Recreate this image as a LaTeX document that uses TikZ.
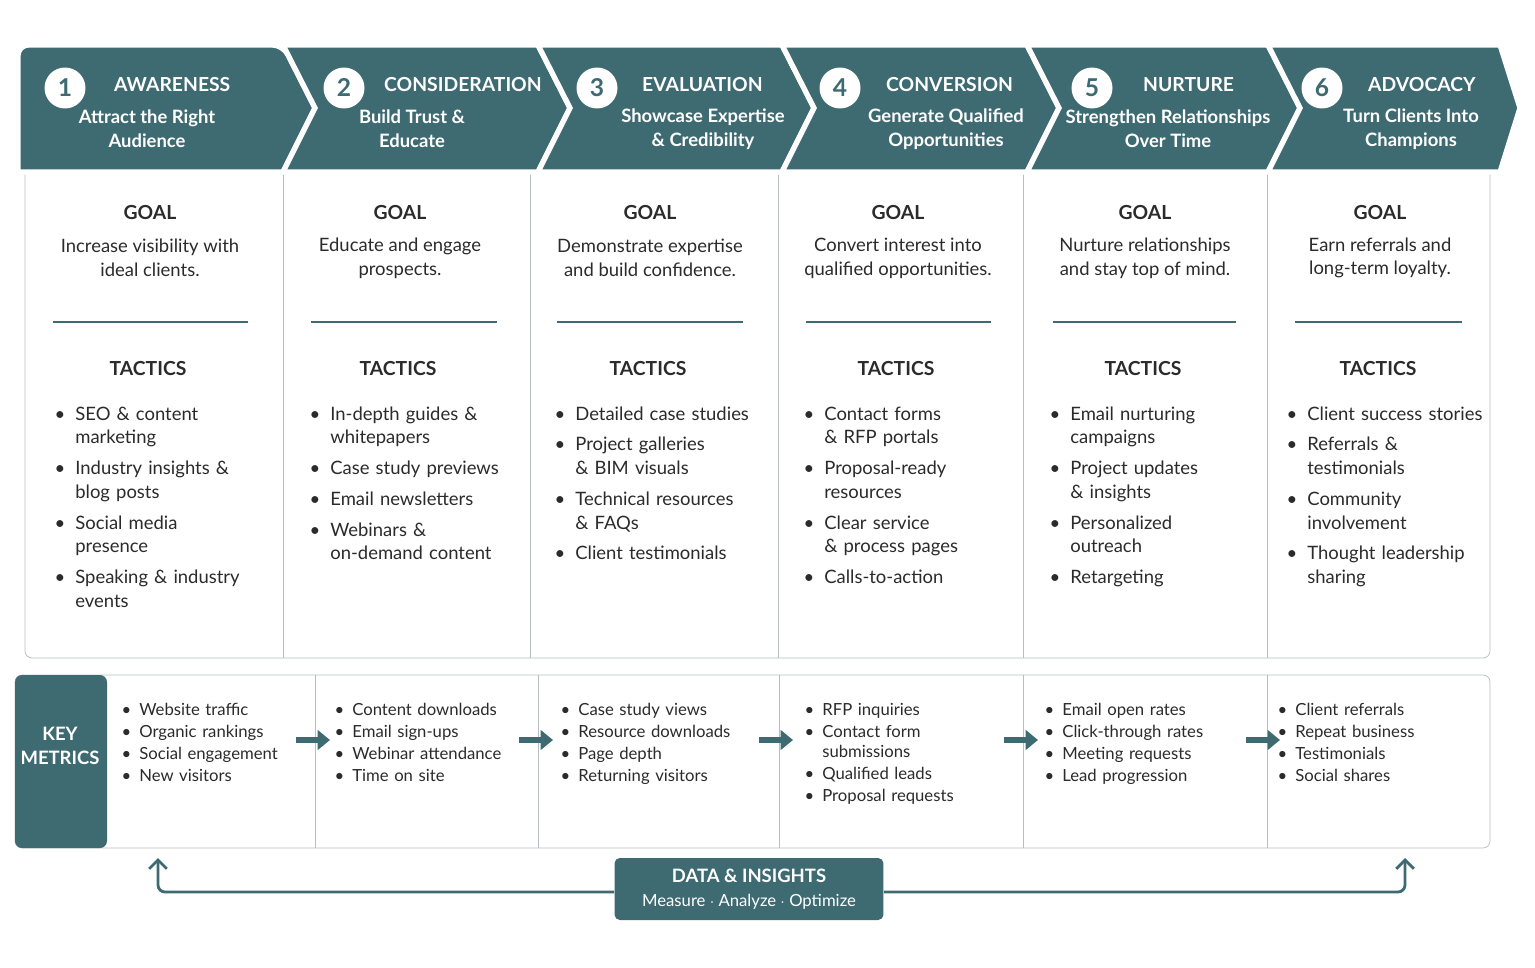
\documentclass[tikz,border=0pt]{standalone}
\usepackage{fontspec}
\setmainfont{Lato}
\usepackage{enumitem}
\usetikzlibrary{arrows.meta}
\definecolor{teal1}{HTML}{3E6A72}
\definecolor{rule1}{HTML}{B8BEC0}
\definecolor{ink}{HTML}{2B2B2B}
\newcommand{\blist}[1]{\begin{itemize}[leftmargin=0.4cm,labelsep=0.2cm,itemsep=4pt,parsep=0pt,topsep=0pt,label=\textbullet]#1\end{itemize}}
\newcommand{\mlist}[1]{\begin{itemize}[leftmargin=0.34cm,labelsep=0.16cm,itemsep=1pt,parsep=0pt,topsep=0pt,label=\textbullet]#1\end{itemize}}
\tikzset{
  chev/.style={fill=teal1, draw=white, line width=3pt, line join=miter},
  num/.style={circle, fill=white, minimum size=0.82cm, inner sep=0pt, text=teal1, font=\fontsize{14}{14}\selectfont\bfseries},
  ttl/.style={anchor=west, text=white, font=\fontsize{11}{13}\selectfont\bfseries},
  sub/.style={text=white, align=center, font=\fontsize{10.5}{13.5}\selectfont\bfseries},
  head/.style={text=ink, font=\fontsize{11}{13}\selectfont\bfseries},
  body/.style={text=ink, align=center, font=\fontsize{10.5}{13.5}\selectfont},
  tac/.style={anchor=north west, inner sep=0pt, text=ink, text width=4.3cm, font=\fontsize{10.5}{13.5}\selectfont},
  met/.style={anchor=north west, inner sep=0pt, text=ink, text width=4cm, font=\fontsize{9.5}{11.5}\selectfont},
  flow/.style={-{Triangle[length=7pt,width=11pt]}, line width=3.5pt, teal1},
  loop/.style={-{Straight Barb[length=5pt,width=10pt]}, line width=1.6pt, teal1}
}
\begin{document}
\begin{tikzpicture}[x=0.02cm, y=-0.02cm]
  \useasboundingbox (0,0) rectangle (1535,967);
  % stage body
  \draw[rule1, fill=white, rounded corners=4pt] (25,160) rectangle (1490,658);
  \foreach \x in {283,530,778,1023,1267}
    \draw[rule1] (\x,172) -- (\x,658);
  % chevrons
  \draw[chev, rounded corners=6pt] (18,172) -- (18,45) -- (283,45) [sharp corners] -- (315,108) -- (283,172) -- cycle;
  \foreach \l/\r in {283/538,538/782,782/1027,1027/1268}
    \draw[chev] (\l,45) -- (\r,45) -- (\r+32,108) -- (\r,172) -- (\l,172) -- (\l+32,108) -- cycle;
  \draw[chev] (1268,45) -- (1500,45) -- (1520,108) -- (1500,172) -- (1268,172) -- (1300,108) -- cycle;
  % stage headers
  \foreach \i/\cx/\tx/\t/\sx/\s in {
    1/65/108/AWARENESS/147/{Attract the Right\\Audience},
    2/344/378/CONSIDERATION/412/{Build Trust \&\\Educate},
    3/597/636/EVALUATION/703/{Showcase Expertise\\\& Credibility},
    4/840/880/CONVERSION/946/{Generate Qualified\\Opportunities},
    5/1092/1137/NURTURE/1168/{Strengthen Relationships\\Over Time},
    6/1322/1362/ADVOCACY/1411/{Turn Clients Into\\Champions}} {
    \node[num] (n\i) at (\cx,88) {\i};
    \node[ttl] (t\i) at (\tx,85) {\t};
    \node[sub] (s\i) at (\sx,129) {\s};
  }
  % goals
  \foreach \i/\gx/\g/\a/\b in {
    1/150/{Increase visibility with\\ideal clients.}/53/248,
    2/400/{Educate and engage\\prospects.}/311/497,
    3/650/{Demonstrate expertise\\and build confidence.}/557/743,
    4/898/{Convert interest into\\qualified opportunities.}/806/991,
    5/1145/{Nurture relationships\\and stay top of mind.}/1053/1236,
    6/1380/{Earn referrals and\\long-term loyalty.}/1295/1462} {
    \node[head] (gh\i) at (\gx,213) {GOAL};
    \node[body] (g\i) at (\gx,258) {\g};
    \draw[teal1, line width=0.8pt] (\a,322) -- (\b,322);
    \node[head] (th\i) at (\gx-2,369) {TACTICS};
  }
  % tactics
  \node[tac] (tc1) at (55,396) {\blist{\item SEO \& content\\marketing \item Industry insights \&\\blog posts \item Social media\\presence \item Speaking \& industry\\events}};
  \node[tac] (tc2) at (310,396) {\blist{\item In-depth guides \&\\whitepapers \item Case study previews \item Email newsletters \item Webinars \&\\on-demand content}};
  \node[tac] (tc3) at (555,396) {\blist{\item Detailed case studies \item Project galleries\\\& BIM visuals \item Technical resources\\\& FAQs \item Client testimonials}};
  \node[tac] (tc4) at (804,396) {\blist{\item Contact forms\\\& RFP portals \item Proposal-ready\\resources \item Clear service\\\& process pages \item Calls-to-action}};
  \node[tac] (tc5) at (1050,396) {\blist{\item Email nurturing\\campaigns \item Project updates\\\& insights \item Personalized\\outreach \item Retargeting}};
  \node[tac] (tc6) at (1287,396) {\blist{\item Client success stories \item Referrals \&\\testimonials \item Community\\involvement \item Thought leadership\\sharing}};
  % key metrics
  \draw[rule1, fill=white, rounded corners=4pt] (15,675) rectangle (1490,848);
  \fill[teal1, rounded corners=4pt] (15,675) rectangle (107,848);
  \node[text=white, align=center, font=\fontsize{10.5}{13.5}\selectfont\bfseries] (km) at (60,746) {KEY\\METRICS};
  \foreach \x in {315,538,779,1023,1267}
    \draw[rule1] (\x,675) -- (\x,848);
  \node[met] (m1) at (122,695) {\mlist{\item Website traffic \item Organic rankings \item Social engagement \item New visitors}};
  \node[met] (m2) at (335,695) {\mlist{\item Content downloads \item Email sign-ups \item Webinar attendance \item Time on site}};
  \node[met] (m3) at (561,695) {\mlist{\item Case study views \item Resource downloads \item Page depth \item Returning visitors}};
  \node[met] (m4) at (805,695) {\mlist{\item RFP inquiries \item Contact form\\submissions \item Qualified leads \item Proposal requests}};
  \node[met] (m5) at (1045,695) {\mlist{\item Email open rates \item Click-through rates \item Meeting requests \item Lead progression}};
  \node[met] (m6) at (1278,695) {\mlist{\item Client referrals \item Repeat business \item Testimonials \item Social shares}};
  \foreach \x in {296,519,759,1004,1246}
    \draw[flow] (\x,740) -- (\x+34,740);
  % data loop
  \node[fill=teal1, rounded corners=3pt, minimum width=5.38cm, minimum height=1.24cm, text=white, align=center, font=\fontsize{10.5}{13}\selectfont] (di) at (749,889) {\textbf{DATA \& INSIGHTS}\\[1pt]\fontsize{9.5}{11}\selectfont Measure $\cdot$ Analyze $\cdot$ Optimize};
  \coordinate (lu) at (158,858);
  \coordinate (ru) at (1405,858);
  \draw[loop, rounded corners=4pt] (di.west |- 0,892) -| (lu);
  \draw[loop, rounded corners=4pt] (di.east |- 0,892) -| (ru);
\end{tikzpicture}
\end{document}
